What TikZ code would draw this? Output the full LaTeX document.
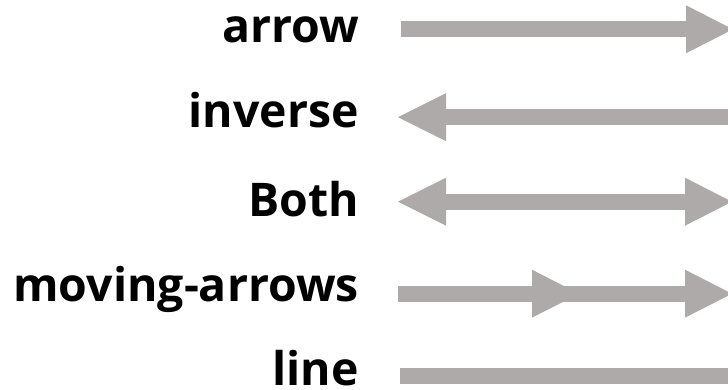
\documentclass[tikz,border=0pt]{standalone}
\usepackage{fontspec}
\setmainfont{Open Sans}
\usetikzlibrary{arrows.meta}
\definecolor{arrgray}{RGB}{174,170,169}
\tikzset{
  lbl/.style={anchor=base east, inner sep=0pt, font=\fontsize{46.4}{52}\selectfont\bfseries},
  shaft/.style={draw=arrgray, line width=16pt, line cap=butt},
  head/.style={-{Triangle[length=47pt, width=48pt, line width=0pt]}},
  headback/.style={{Triangle[length=48pt, width=48pt, line width=0pt]}-},
  headboth/.style={{Triangle[length=48pt, width=48pt, line width=0pt]}-{Triangle[length=47pt, width=48pt, line width=0pt]}}
}
\begin{document}
\begin{tikzpicture}[x=1pt,y=-1pt]
\useasboundingbox (0,0) rectangle (728,390);
% labels
\node[lbl] (l1) at (359,43) {arrow};
\node[lbl] (l2) at (359,128) {inverse};
\node[lbl] (l3) at (359,216.5) {Both};
\node[lbl] (l4) at (359,301.5) {moving-arrows};
\node[lbl, text depth=0pt] (l5) at (359,385.5) {line};
% endpoints
\coordinate (s1) at (400.5,29.3);  \coordinate (e1) at (733,29.3);
\coordinate (s2) at (398,117.2);   \coordinate (e2) at (730,117.2);
\coordinate (s3) at (398,201.7);   \coordinate (e3) at (732,201.7);
\coordinate (s4) at (398.3,293.7); \coordinate (m4) at (579,293.7); \coordinate (e4) at (732,293.7);
\coordinate (s5) at (400,376.3);   \coordinate (e5) at (730,376.3);
% connectors
\draw[shaft, head] (s1) -- (e1);
\draw[shaft, headback] (s2) -- (e2);
\draw[shaft, headboth] (s3) -- (e3);
\draw[shaft, head] (s4) -- (e4);
\draw[shaft, head] (s4) -- (m4);
\draw[shaft] (s5) -- (e5);
\end{tikzpicture}
\end{document}
